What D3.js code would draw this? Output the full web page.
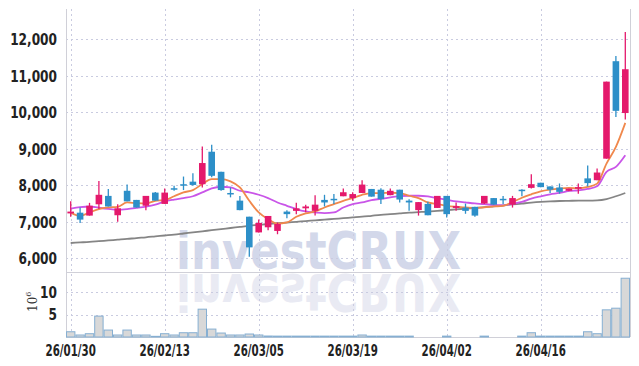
<!DOCTYPE html>
<html><head><meta charset="utf-8">
<script src="https://cdn.jsdelivr.net/npm/d3@7"></script>
<style>body{margin:0;background:#fff}</style>
</head><body><svg id="c" width="639" height="366"></svg>
<script>
const dates=["26/01/30","26/02/02","26/02/03","26/02/04","26/02/05","26/02/06","26/02/09","26/02/10","26/02/11","26/02/12","26/02/13","26/02/19","26/02/20","26/02/23","26/02/24","26/02/25","26/02/26","26/02/27","26/03/03","26/03/04","26/03/05","26/03/06","26/03/09","26/03/10","26/03/11","26/03/12","26/03/13","26/03/16","26/03/17","26/03/18","26/03/19","26/03/20","26/03/23","26/03/24","26/03/25","26/03/26","26/03/27","26/03/30","26/03/31","26/04/01","26/04/02","26/04/03","26/04/06","26/04/07","26/04/08","26/04/09","26/04/10","26/04/13","26/04/14","26/04/15","26/04/16","26/04/17","26/04/20","26/04/21","26/04/22","26/04/23","26/04/24","26/04/27","26/04/28","26/04/29"];
const opens=[7230,7250,7170,7480,7710,7180,7850,7600,7440,7800,7490,7920,8030,8100,8030,8920,8370,7790,7580,7140,6710,6850,6750,7280,7300,7370,7300,7600,7630,7700,7650,7790,7900,7880,7730,7880,7580,7320,7490,7380,7710,7380,7390,7410,7500,7650,7630,7470,7880,7930,8070,7970,7940,7850,7910,8190,8140,8730,11400,9980];
const highs=[7560,7390,7520,8120,7900,7480,8020,7600,7710,7820,7910,7990,8240,8330,9060,9110,8370,7940,7710,7140,7060,7160,6980,7320,7520,7470,7730,7740,7760,7910,7810,8140,7900,7920,7910,7880,7620,7540,7550,7710,7710,7530,7500,7410,7710,7650,7710,7710,7890,8300,8070,7970,8050,7910,8050,8540,8460,10840,11540,12200];
const lows=[7140,6970,7170,7350,7420,7000,7560,7390,7320,7580,7490,7850,7870,7990,7940,8220,7850,7670,7320,6040,6710,6770,6660,7100,7210,7260,7170,7420,7490,7700,7580,7790,7690,7490,7730,7530,7300,7170,7180,7380,7120,7300,7220,7140,7490,7470,7490,7390,7700,7910,7950,7790,7770,7840,7770,7970,8140,8730,9870,9800];
const closes=[7280,7060,7440,7740,7420,7370,7560,7390,7710,7580,7800,7890,7990,8010,8610,8260,7870,7770,7320,6300,6970,7160,6940,7210,7370,7420,7470,7530,7600,7810,7760,8020,7690,7620,7850,7610,7530,7540,7180,7710,7210,7430,7300,7170,7710,7470,7600,7650,7850,8030,7950,7880,7820,7910,7950,8060,8350,10840,10040,11180];
const ma5=[7250,7165,7256,7348,7393,7412,7530,7512,7503,7576,7595,7700,7805,7869,8034,8171,8171,8107,7942,7576,7256,7073,6950,6982,7137,7229,7284,7393,7485,7576,7650,7741,7787,7787,7796,7787,7714,7650,7530,7485,7439,7412,7393,7375,7393,7420,7439,7540,7660,7753,7835,7881,7909,7927,7918,7954,8046,8594,9051,9709];
const ma20=[7360,7400,7420,7385,7355,7335,7350,7380,7415,7470,7560,7610,7650,7700,7805,7915,7961,7942,7851,7805,7741,7650,7530,7439,7348,7284,7256,7238,7256,7393,7485,7530,7595,7630,7668,7705,7714,7714,7695,7650,7604,7558,7530,7503,7485,7460,7450,7500,7543,7634,7698,7753,7790,7845,7863,7900,7973,8366,8503,8823];
const ma60=[6420,6435,6450,6470,6490,6510,6530,6555,6575,6600,6625,6650,6680,6710,6740,6770,6800,6830,6860,6890,6915,6940,6960,6980,7000,7020,7040,7060,7080,7100,7120,7140,7165,7190,7210,7230,7250,7265,7280,7300,7320,7340,7360,7380,7400,7425,7450,7475,7500,7525,7545,7560,7570,7575,7580,7580,7585,7620,7700,7790];
const volumes=[1.18,0.45,0.74,4.69,1.56,0.45,1.56,0.45,0.45,0.15,0.74,0.45,0.96,0.96,6.25,1.78,0.89,0.45,0.45,0.67,0.45,0.22,0.2,0.2,0.2,0.2,0.2,0.2,0.2,0.2,0.2,0.45,0.2,0.2,0.2,0.2,0.2,0,0,0,0.2,0,0,0,0.2,0,0,0,0.2,0.96,0.2,0.2,0.2,0.2,0.2,1.18,0.74,6.1,6.47,13.2];
const priceTicks=[6000,7000,8000,9000,10000,11000,12000];
const volTicks=[5,10];
const dateTicks=["26/01/30","26/02/13","26/03/05","26/03/19","26/04/02","26/04/16"];

const L=66,R=630,T=9,SEP=272,B=337;
const svg=d3.select('#c');
const x=d3.scaleBand().domain(dates).range([L,R]);
const bw=x.bandwidth();
const cx=d=>x(d)+bw/2;
const y=d3.scaleLinear().domain([5625,12830]).range([SEP,T]);
const yv=d3.scaleLinear().domain([0,14.6]).range([B,SEP]);
const labelFont="'Liberation Sans Narrow','DejaVu Sans Condensed',sans-serif";

// watermark
const wm=svg.append('g');
wm.append('text').attr('x',176).attr('y',269).text('investCRUX')
  .attr('font-family','DejaVu Sans').attr('font-weight','bold').attr('font-size',52)
  .attr('textLength',285).attr('lengthAdjust','spacingAndGlyphs').attr('fill','#d3d8ea');
wm.append('text').attr('x',176).attr('y',-274).attr('transform','scale(1,-1)').text('investCRUX')
  .attr('font-family','DejaVu Sans').attr('font-weight','bold').attr('font-size',52)
  .attr('textLength',285).attr('lengthAdjust','spacingAndGlyphs').attr('fill','#e9eaf3');

// gridlines
const grid=svg.append('g').attr('stroke','#c9cbe0').attr('stroke-dasharray','2,3').attr('stroke-width',1);
grid.selectAll('.hp').data(priceTicks).join('line').attr('x1',L).attr('x2',R)
  .attr('y1',d=>Math.round(y(d))+0.5).attr('y2',d=>Math.round(y(d))+0.5);
grid.selectAll('.hv').data(volTicks).join('line').attr('x1',L).attr('x2',R)
  .attr('y1',d=>Math.round(yv(d))+0.5).attr('y2',d=>Math.round(yv(d))+0.5);
grid.selectAll('.vv').data(dateTicks).join('line').attr('y1',T).attr('y2',B)
  .attr('x1',d=>Math.round(cx(d))+0.5).attr('x2',d=>Math.round(cx(d))+0.5);

// frame
const fr=svg.append('g').attr('stroke','#d0d0d8').attr('stroke-width',1);
fr.append('line').attr('x1',L+0.5).attr('x2',L+0.5).attr('y1',T).attr('y2',B);
fr.append('line').attr('x1',R+0.5).attr('x2',R+0.5).attr('y1',T).attr('y2',B);
fr.append('line').attr('x1',L).attr('x2',R).attr('y1',SEP+0.5).attr('y2',SEP+0.5);
fr.append('line').attr('x1',L).attr('x2',R).attr('y1',B+0.5).attr('y2',B+0.5);

// volume bars
svg.append('g').selectAll('rect').data(dates.map((d,i)=>({d,v:volumes[i]})).filter(o=>o.v>0)).join('rect')
  .attr('x',o=>x(o.d)+0.5).attr('width',bw-1)
  .attr('y',o=>yv(o.v)).attr('height',o=>B-yv(o.v))
  .attr('fill','#d8d8d8').attr('stroke','#86afd2').attr('stroke-width',1);

// MA lines
const lineGen=arr=>d3.line().x((d,i)=>cx(dates[i])).y(d=>y(d)).curve(d3.curveMonotoneX)(arr);
svg.append('path').attr('d',lineGen(ma60)).attr('fill','none').attr('stroke','#858585').attr('stroke-width',1.8);
svg.append('path').attr('d',lineGen(ma20)).attr('fill','none').attr('stroke','#c955e8').attr('stroke-width',1.8);
svg.append('path').attr('d',lineGen(ma5)).attr('fill','none').attr('stroke','#f0884c').attr('stroke-width',1.8);

// candles
const up='#e4196c', down='#2d8fc8';
const cd=dates.map((d,i)=>({d,o:opens[i],h:highs[i],l:lows[i],c:closes[i]}));
const cg=svg.append('g').selectAll('g').data(cd).join('g');
cg.append('line').attr('x1',o=>cx(o.d)).attr('x2',o=>cx(o.d))
  .attr('y1',o=>y(o.h)).attr('y2',o=>y(o.l))
  .attr('stroke',o=>o.c>=o.o?up:down).attr('stroke-width',1.3);
cg.append('rect').attr('x',o=>cx(o.d)-3.3).attr('width',6.6)
  .attr('y',o=>y(Math.max(o.o,o.c))).attr('height',o=>Math.max(1.5,Math.abs(y(o.o)-y(o.c))))
  .attr('fill',o=>o.c>=o.o?up:down);

// axes
const axP=svg.append('g').attr('transform',`translate(${L-6},0)`)
  .call(d3.axisLeft(y).tickValues(priceTicks).tickFormat(d3.format(',')).tickSize(0));
const axV=svg.append('g').attr('transform',`translate(${L-6},0)`)
  .call(d3.axisLeft(yv).tickValues(volTicks).tickSize(0));
const axX=svg.append('g').attr('transform',`translate(0,${B+5})`)
  .call(d3.axisBottom(x).tickValues(dateTicks).tickSize(0));
[axP,axV,axX].forEach(a=>{a.select('.domain').remove();
  a.selectAll('text').attr('font-family',labelFont).attr('font-weight','bold').attr('font-size',15).attr('fill','#222');});
axP.selectAll('text').attr('dy','0.35em');
axV.selectAll('text').attr('dy','0.35em');
axX.selectAll('text').attr('dy','0.75em');
function squeeze(sel,k){sel.each(function(){const w=this.getComputedTextLength();
  d3.select(this).attr('textLength',w*k).attr('lengthAdjust','spacingAndGlyphs');});}
squeeze(axP.selectAll('text'),0.9);
squeeze(axV.selectAll('text'),0.9);
squeeze(axX.selectAll('text'),0.76);

// volume unit label
const vl=svg.append('text').attr('transform','translate(37,312) rotate(-90)')
  .attr('font-family','DejaVu Serif').attr('font-size',12).attr('fill','#333');
vl.append('tspan').text('10');
vl.append('tspan').text('6').attr('font-size',8).attr('dy',-6);
</script></body></html>
